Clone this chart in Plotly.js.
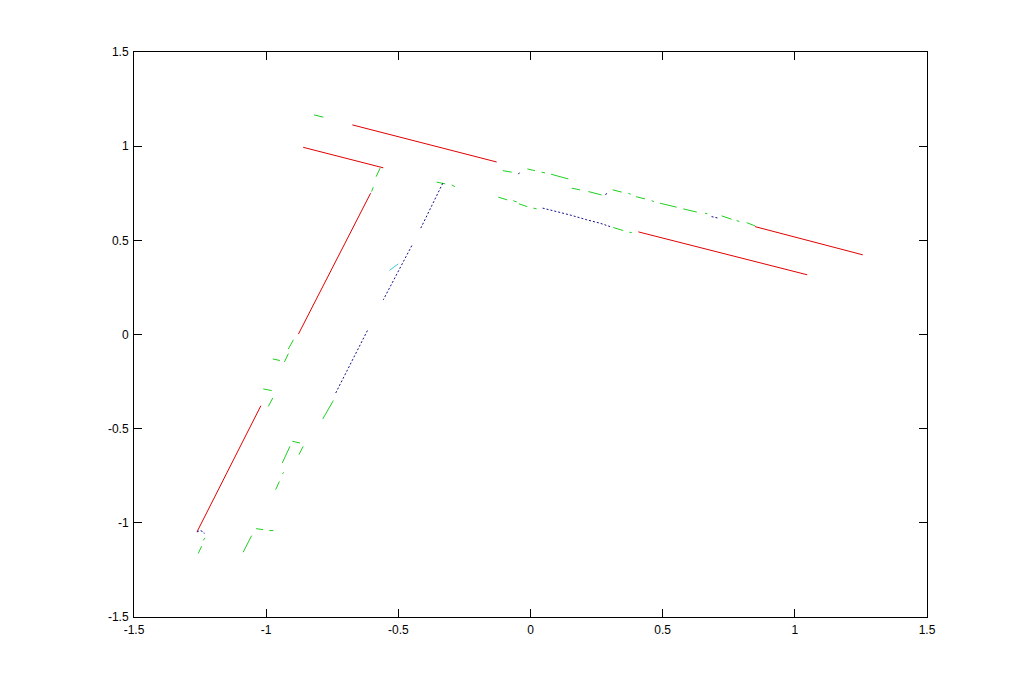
<!DOCTYPE html>
<html>
<head>
<meta charset="utf-8">
<script src="https://cdn.plot.ly/plotly-3.0.1.min.js"></script>
<style>html,body{margin:0;padding:0;background:#fff;}#chart{width:1024px;height:694px;}</style>
</head>
<body>
<div id="chart"></div>
<script>
// Axis ticks
var tickValues = [-1.5, -1, -0.5, 0, 0.5, 1, 1.5];
var tickLabels = ['-1.5', '-1', '-0.5', '0', '0.5', '1', '1.5'];

// Red solid segments (null separates pieces)
var redX = [-0.674, -0.128, null, 0.849, 1.257, null, -0.860, -0.557, null, 0.408, 1.047, null,
            -0.605, -0.878, null, -1.020, -1.261];
var redY = [1.113, 0.916, null, 0.573, 0.423, null, 0.994, 0.885, null, 0.545, 0.317, null,
            0.750, 0.002, null, -0.378, -1.046];

// Blue dotted segments
var blueX = [-0.332, -0.415, null, -0.449, -0.557, null, -0.617, -0.737, null,
             0.046, 0.099, 0.149, 0.213, 0.263, 0.301, null,
             -0.046, -0.040, null, 0.284, 0.288, null, 0.685, 0.710, null,
             -1.262, -1.249, -1.236, -1.234];
var blueY = [0.803, 0.565, null, 0.472, 0.184, null, 0.021, -0.311, null,
             0.671, 0.653, 0.635, 0.609, 0.591, 0.573, null,
             0.851, 0.862, null, 0.741, 0.750, null, 0.626, 0.618, null,
             -1.048, -1.041, -1.049, -1.057];

// Cyan fragment
var cyanX = [-0.534, -0.500];
var cyanY = [0.340, 0.375];

// Green dash-dot fragments
var greenX = [-0.105, -0.071, null, -0.012, 0.017, null, 0.042, 0.055, null, 0.078, 0.143, null,
              0.156, 0.187, null, 0.219, 0.269, null, 0.311, 0.345, null, 0.370, 0.379, null,
              0.399, 0.433, null, 0.458, 0.467, null, 0.490, 0.553, null, 0.578, 0.629, null,
              0.660, 0.669, null, 0.723, 0.761, null, 0.780, 0.790, null, 0.818, 0.849, null,
              -0.122, -0.088, null, -0.065, -0.052, null, -0.044, -0.012, null, 0.011, 0.023, null,
              0.313, 0.351, null, 0.374, 0.383, null,
              -0.819, -0.784, null,
              -0.355, -0.323, null, -0.298, -0.286, null,
              -0.569, -0.584, null, -0.595, -0.601, null,
              -0.897, -0.916, null, -0.975, -0.948, null, -0.916, -0.931, null,
              -1.011, -0.979, null, -0.975, -0.992, null,
              -1.231, -1.238, null, -1.244, -1.257, null,
              -0.746, -0.786, null, -0.901, -0.872, null, -0.860, -0.876, null,
              -0.910, -0.939, null, -0.934, -0.938, null, -0.950, -0.964, null,
              -1.038, -1.011, null, -0.988, -0.973, null, -1.055, -1.087];
var greenY = [0.870, 0.862, null, 0.879, 0.870, null, 0.862, 0.858, null, 0.851, 0.826, null,
              0.777, 0.768, null, 0.759, 0.741, null, 0.768, 0.756, null, 0.750, 0.745, null,
              0.732, 0.720, null, 0.710, 0.706, null, 0.697, 0.676, null, 0.667, 0.650, null,
              0.644, 0.641, null, 0.630, 0.612, null, 0.605, 0.600, null, 0.594, 0.577, null,
              0.729, 0.715, null, 0.710, 0.704, null, 0.694, 0.679, null, 0.671, 0.667, null,
              0.568, 0.552, null, 0.543, 0.541, null,
              1.166, 1.154, null,
              0.809, 0.800, null, 0.794, 0.785, null,
              0.883, 0.838, null, 0.782, 0.759, null,
              -0.028, -0.077, null, -0.130, -0.138, null, -0.102, -0.146, null,
              -0.289, -0.298, null, -0.337, -0.382, null,
              -1.080, -1.093, null, -1.124, -1.163, null,
              -0.351, -0.449, null, -0.567, -0.576, null, -0.594, -0.638, null,
              -0.594, -0.682, null, -0.732, -0.740, null, -0.780, -0.824, null,
              -1.031, -1.036, null, -1.041, -1.041, null, -1.068, -1.156];

var traces = [
  {x: redX, y: redY, mode: 'lines', line: {color: '#e00000', width: 1}, connectgaps: false, hoverinfo: 'skip'},
  {x: greenX, y: greenY, mode: 'lines', line: {color: '#1ed01e', width: 1}, connectgaps: false, hoverinfo: 'skip'},
  {x: blueX, y: blueY, mode: 'lines', line: {color: '#10108c', width: 1, dash: '2px,2px'}, connectgaps: false, hoverinfo: 'skip'},
  {x: cyanX, y: cyanY, mode: 'lines', line: {color: '#40c8d8', width: 1}, hoverinfo: 'skip'}
];

var axisCommon = {
  tickvals: tickValues, ticktext: tickLabels,
  ticks: 'inside', ticklen: 8, tickwidth: 1, tickcolor: '#000',
  showline: true, linecolor: '#000', linewidth: 1, mirror: 'ticks',
  showgrid: false, zeroline: false,
  tickfont: {family: 'Liberation Sans, Arial, sans-serif', size: 12, color: '#000'}
};

var layout = {
  width: 1024, height: 694,
  margin: {l: 134, r: 97, t: 52, b: 77, pad: 0},
  paper_bgcolor: '#fff', plot_bgcolor: '#fff',
  showlegend: false,
  xaxis: Object.assign({}, axisCommon, {range: [-1.5, 1.5], ticklabelstandoff: 2}),
  yaxis: Object.assign({}, axisCommon, {range: [-1.5, 1.5], ticklabelstandoff: 2})
};

Plotly.newPlot('chart', traces, layout, {staticPlot: true, displayModeBar: false});
</script>
</body>
</html>
